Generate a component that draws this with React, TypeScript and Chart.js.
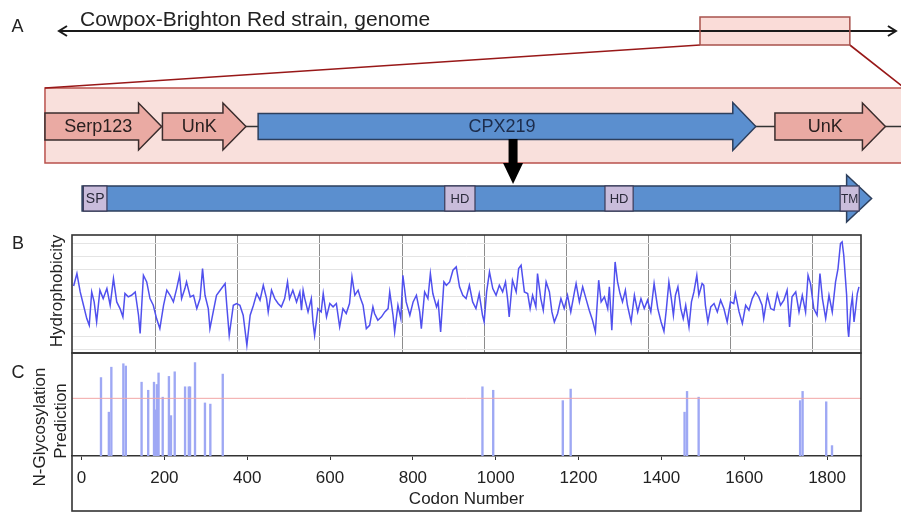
import React, { useEffect, useRef } from 'react';
import { Chart, registerables } from 'chart.js';

Chart.register(...registerables);

const W = 901;
const H = 513;
const FONT = "'Liberation Sans', Arial, Helvetica, sans-serif";

// ---------- Panel A: genome schematic ----------
const genomeTitle = 'Cowpox-Brighton Red strain, genome';
const genomeSpanKb = [0, 224.5];
const zoomWindowKb = [171.8, 211.9];
const regionSpanKb = [0, 9.88];
const geneNames = ['Serp123', 'UnK', 'CPX219', 'UnK'];
const geneStartKb = [0, 1.35, 2.45, 8.39];
const geneEndKb = [1.34, 2.31, 8.17, 9.66];
const geneFocus = [false, false, true, false];
const expandArrowKb = 5.38;
const proteinStart = 1;
const proteinLength = 1908;
const domainNames = ['SP', 'HD', 'HD', 'TM'];
const domainStart = [4, 877, 1264, 1832];
const domainEnd = [61, 950, 1332, 1878];

// ---------- Panel B: hydrophobicity profile [codon, value] ----------
const hydroProfile: [number, number][] = [
  [0, 0.8], [8, 1.73], [16, 0.35], [24, -0.65], [32, -1.65], [38, -2.15], [44, 0.35], [50, -0.4], [56, -1.9], [64, 0.48],
  [72, -0.15], [81, 0.6], [89, -0.65], [97, 1.35], [105, -0.4], [113, -0.9], [120, -1.52], [125, 0.23], [133, -0.02], [141, 0.1],
  [150, 0.35], [158, -1.4], [162, -2.77], [170, 1.6], [178, 1.1], [186, -0.15], [194, -0.65], [202, -1.65], [210, -2.4], [219, -0.65],
  [227, 0.48], [235, 0.1], [243, -0.4], [251, 0.6], [258, 1.6], [263, -0.15], [271, 0.6], [275, 1.1], [284, -0.02], [292, 0.1],
  [300, -0.9], [308, -0.15], [314, 2.1], [320, 0.1], [328, -0.9], [332, -2.4], [340, -1.15], [348, 0.1], [357, 0.48], [369, 0.98],
  [373, -0.65], [379, -2.9], [389, -0.65], [397, -0.52], [405, -0.65], [413, -1.4], [422, -3.65], [430, -1.4], [438, -0.65], [446, 0.23],
  [454, -0.27], [462, 0.85], [470, -0.15],
  [474, -1.15], [482, 0.48], [490, -0.15], [498, -0.52], [506, -0.77], [514, -0.15], [521, 1.1], [526, -0.15], [534, 0.48], [543, -0.4],
  [551, 0.35], [555, -1.02], [559, 0.48], [563, -0.15], [571, -1.15], [579, -0.15], [583, -1.9], [587, -2.9], [595, -0.9], [603, -1.15],
  [608, 0.23], [616, -1.52], [624, -0.52], [632, -0.77], [640, -0.52], [648, -2.27], [656, -0.9], [664, -1.27], [672, -0.52], [678, 1.48],
  [685, 0.1], [693, 0.48], [699, -0.15], [705, -0.65], [713, -2.4], [721, -2.15], [729, -0.77], [733, -1.27], [741, -1.77], [750, -1.52],
  [758, -1.15], [766, -0.9], [770, 0.35], [778, -1.4], [782, -2.65], [790, -0.65], [797, -1.65], [802, 1.6], [810, -0.4], [819, -1.4],
  [827, -0.4], [835, 0.1], [843, -1.15], [847, -2.4], [855, 0.35], [863, -0.15], [869, 1.73], [875, 0.23], [884, -0.77], [888, -0.4],
  [894, -2.65], [902, 1.1], [908, 0.85], [916, 1.1], [924, 1.98], [932, 2.23], [940, 0.73], [948, 0.1],
  [956, -0.15], [964, 0.85], [972, -0.4], [980, -0.9], [988, 0.23], [996, -1.4], [1000, -1.9], [1006, 0.35], [1013, 1.85], [1021, 0.6],
  [1029, 0.1], [1037, 0.85], [1045, 0.35], [1052, 1.1], [1057, -0.15], [1061, -1.52], [1069, 1.23], [1078, 0.35], [1084, 2.1], [1090, 2.35],
  [1098, 0.35], [1106, 0.23], [1112, -0.9], [1118, 0.1], [1126, -0.77], [1130, 1.73], [1138, -0.15], [1144, -1.02], [1151, 1.1], [1159, 0.35],
  [1165, -1.15], [1171, -1.9], [1179, -1.27], [1187, -0.15], [1195, -0.9], [1203, 0.1], [1211, -1.15], [1220, 0.35], [1224, 0.98], [1232, -0.4],
  [1240, 0.73], [1248, -0.15], [1256, -1.02], [1264, -1.77], [1271, -2.65], [1279, 1.23], [1285, -0.4], [1293, -0.02], [1301, -0.9], [1305, 0.73],
  [1311, -2.52], [1319, 2.6], [1325, 1.1], [1331, 0.23], [1337, -0.4], [1344, 0.48], [1349, -0.65], [1358, -1.9], [1366, 0.1], [1374, -1.15],
  [1382, -0.15], [1390, -0.9], [1398, -0.27], [1406, -1.15], [1414, 0.98], [1423, -0.9], [1431, -1.9],
  [1438, -2.6], [1444, -0.9], [1450, 1.1], [1456, -0.15], [1461, -1.4], [1466, 0.1], [1472, 0.73], [1479, -0.9], [1485, -1.65], [1491, -0.65],
  [1499, -2.27], [1505, -0.4], [1511, 0.35], [1518, 1.6], [1523, 0.1], [1531, 0.98], [1535, 0.85], [1539, -0.65], [1545, -1.9], [1552, -0.77],
  [1560, -0.52], [1568, -1.15], [1576, -0.27], [1584, -0.9], [1592, -1.9], [1600, -0.4], [1608, -0.52], [1612, 0.23], [1621, -1.15], [1629, -2.02],
  [1637, -0.65], [1645, -1.02], [1653, -0.15], [1661, 0.35], [1669, -0.02], [1677, -0.65], [1681, -1.65], [1690, 0.1], [1698, -0.9], [1706, -1.02],
  [1714, 0.23], [1722, -0.65], [1730, -0.27], [1738, 0.48], [1744, -2.27], [1750, -0.02], [1759, 0.35], [1767, -1.15], [1775, 0.1], [1783, -1.15],
  [1789, 1.6], [1795, 0.98], [1803, -0.9], [1811, -1.4], [1818, 1.73], [1824, -0.15], [1832, -1.65], [1840, 0.1], [1848, -1.15], [1856, 1.1],
  [1862, 2.1], [1868, 3.98], [1872, 4.1], [1876, 3.1], [1883, 0.1], [1886, -2.4], [1888, -3.02], [1893, -0.9], [1897, -0.02], [1901, -1.9],
  [1905, -0.9], [1909, 0.23], [1913, 0.73],
];
const hydroRange = [-4.23, 4.62];
const hydroCodonRange = [-4, 1918];

// ---------- Panel C: N-glycosylation prediction ----------
const glycoCodon = [47, 66, 72, 101, 107, 145, 161, 175, 179, 182, 186, 196, 211, 216, 225, 250, 259, 262, 274, 298, 311, 341,
  968, 994, 1162, 1181, 1456, 1462, 1490, 1735, 1741, 1798, 1812];
const glycoScore = [0.68, 0.38, 0.77, 0.8, 0.78, 0.64, 0.57, 0.64, 0.4, 0.62, 0.72, 0.51, 0.69, 0.35, 0.73, 0.6, 0.6, 0.6, 0.81, 0.46, 0.45, 0.71,
  0.6, 0.57, 0.48, 0.58, 0.38, 0.56, 0.51, 0.48, 0.56, 0.47, 0.09];
const glycoThreshold = 0.5;
const codonAxisRange = [-23, 1882];
const glycoMax = 0.893;

// ---------- drawing helpers ----------
function geneArrow(ctx: CanvasRenderingContext2D, x0: number, x1: number, yc: number, bodyH: number, headH: number, headL: number, fill: string, stroke: string) {
  const hx = x1 - headL;
  ctx.beginPath();
  ctx.moveTo(x0, yc - bodyH / 2);
  ctx.lineTo(hx, yc - bodyH / 2);
  ctx.lineTo(hx, yc - headH / 2);
  ctx.lineTo(x1, yc);
  ctx.lineTo(hx, yc + headH / 2);
  ctx.lineTo(hx, yc + bodyH / 2);
  ctx.lineTo(x0, yc + bodyH / 2);
  ctx.closePath();
  ctx.fillStyle = fill;
  ctx.fill();
  ctx.strokeStyle = stroke;
  ctx.lineWidth = 1.5;
  ctx.stroke();
}

const diagramPlugin = {
  id: 'diagram',
  afterDraw(chart: any) {
    const ctx: CanvasRenderingContext2D = chart.ctx;
    const g = chart.scales.xg;
    const r = chart.scales.xr;
    const c = chart.scales.xc;
    ctx.save();
    ctx.fillStyle = '#222';
    ctx.font = `18px ${FONT}`;
    ctx.textAlign = 'center';
    ctx.textBaseline = 'alphabetic';
    ctx.fillText('A', 17.5, 32);

    const wx0 = g.getPixelForValue(zoomWindowKb[0]);
    const wx1 = g.getPixelForValue(zoomWindowKb[1]);
    const rx0 = r.getPixelForValue(regionSpanKb[0]);
    const rx1 = r.getPixelForValue(regionSpanKb[1]);

    // region box
    ctx.fillStyle = '#f9e0dc';
    ctx.fillRect(rx0, 88, rx1 - rx0, 75);
    ctx.strokeStyle = '#b9514c';
    ctx.lineWidth = 1.5;
    ctx.strokeRect(rx0, 88, rx1 - rx0, 75);

    // connectors
    ctx.strokeStyle = '#981818';
    ctx.lineWidth = 1.6;
    ctx.beginPath();
    ctx.moveTo(wx0, 45);
    ctx.lineTo(rx0, 88);
    ctx.moveTo(wx1, 45);
    ctx.lineTo(rx1, 88);
    ctx.stroke();

    // genome window + genome arrow
    ctx.fillStyle = '#fadcd8';
    ctx.fillRect(wx0, 17, wx1 - wx0, 28);
    const gx0 = g.getPixelForValue(genomeSpanKb[0]);
    const gx1 = g.getPixelForValue(genomeSpanKb[1]);
    ctx.strokeStyle = '#1a1a1a';
    ctx.lineWidth = 2;
    ctx.beginPath();
    ctx.moveTo(gx0 + 1, 31);
    ctx.lineTo(gx1 - 1, 31);
    ctx.stroke();
    ctx.beginPath();
    ctx.moveTo(gx0 + 9, 26);
    ctx.lineTo(gx0 + 1, 31);
    ctx.lineTo(gx0 + 9, 36);
    ctx.moveTo(gx1 - 9, 26);
    ctx.lineTo(gx1 - 1, 31);
    ctx.lineTo(gx1 - 9, 36);
    ctx.stroke();
    ctx.strokeStyle = '#a8524c';
    ctx.lineWidth = 1.5;
    ctx.strokeRect(wx0, 17, wx1 - wx0, 28);
    ctx.fillStyle = '#222';
    ctx.font = `21px ${FONT}`;
    ctx.textAlign = 'left';
    ctx.fillText(genomeTitle, gx0 + 22, 26);

    // genes
    const yc = 126.5;
    ctx.strokeStyle = '#333';
    ctx.lineWidth = 1.5;
    ctx.beginPath();
    ctx.moveTo(r.getPixelForValue(geneStartKb[0]), yc);
    ctx.lineTo(W, yc);
    ctx.stroke();
    for (let i = 0; i < geneNames.length; i++) {
      const x0 = r.getPixelForValue(geneStartKb[i]);
      const x1 = r.getPixelForValue(geneEndKb[i]);
      if (geneFocus[i]) geneArrow(ctx, x0, x1, yc, 26, 48, 23, '#5b8fcf', '#2d3f5c');
      else geneArrow(ctx, x0, x1, yc, 27, 47, 23, '#eaaaa3', '#3a2c2c');
    }
    ctx.font = `18px ${FONT}`;
    ctx.textAlign = 'center';
    ctx.textBaseline = 'middle';
    for (let i = 0; i < geneNames.length; i++) {
      const x0 = r.getPixelForValue(geneStartKb[i]);
      const x1 = r.getPixelForValue(geneEndKb[i]);
      ctx.fillStyle = geneFocus[i] ? '#1c2c4c' : '#2a2020';
      ctx.fillText(geneNames[i], (x0 + x1 - 10) / 2, yc + 1);
    }

    // expand arrow
    const ax = r.getPixelForValue(expandArrowKb);
    ctx.fillStyle = '#000';
    ctx.fillRect(ax - 4.5, 139, 9, 26);
    ctx.beginPath();
    ctx.moveTo(ax - 10, 163);
    ctx.lineTo(ax + 10, 163);
    ctx.lineTo(ax, 184);
    ctx.closePath();
    ctx.fill();

    // protein domain bar
    const pyc = 198.5;
    const px0 = c.getPixelForValue(proteinStart);
    const px1 = c.getPixelForValue(proteinLength);
    geneArrow(ctx, px0, px1, pyc, 25, 47, 25, '#5b8fcf', '#2d3f5c');
    for (let i = 0; i < domainNames.length; i++) {
      const d0 = c.getPixelForValue(domainStart[i]);
      const d1 = c.getPixelForValue(domainEnd[i]);
      ctx.fillStyle = '#c9bcdb';
      ctx.fillRect(d0, pyc - 12.5, d1 - d0, 25);
      ctx.strokeStyle = '#3a3a58';
      ctx.lineWidth = 1.2;
      ctx.strokeRect(d0, pyc - 12.5, d1 - d0, 25);
      ctx.fillStyle = '#2a2a3a';
      ctx.font = `${domainNames[i] === 'TM' ? 12 : domainNames[i] === 'SP' ? 14 : 13}px ${FONT}`;
      ctx.fillText(domainNames[i], (d0 + d1) / 2, pyc + 1);
    }
    ctx.restore();
  },
};

const panelBPlugin = {
  id: 'panelB',
  afterDraw(chart: any) {
    const ctx: CanvasRenderingContext2D = chart.ctx;
    const a = chart.chartArea;
    ctx.save();
    ctx.strokeStyle = '#333';
    ctx.lineWidth = 1.6;
    ctx.strokeRect(a.left, a.top, a.right - a.left, a.bottom - a.top);
    ctx.fillStyle = '#222';
    ctx.font = `18px ${FONT}`;
    ctx.textAlign = 'center';
    ctx.textBaseline = 'alphabetic';
    ctx.fillText('B', 18, 249);
    ctx.translate(57, 291);
    ctx.rotate(-Math.PI / 2);
    ctx.font = `17px ${FONT}`;
    ctx.textBaseline = 'middle';
    ctx.fillText('Hydrophobicity', 0, 0);
    ctx.restore();
  },
};

const panelCPlugin = {
  id: 'panelC',
  afterDraw(chart: any) {
    const ctx: CanvasRenderingContext2D = chart.ctx;
    const a = chart.chartArea;
    const xs = chart.scales.x;
    ctx.save();
    ctx.strokeStyle = '#333';
    ctx.lineWidth = 1.6;
    ctx.strokeRect(a.left, a.top, a.right - a.left, xs.bottom - a.top);
    ctx.fillStyle = '#222';
    ctx.font = `18px ${FONT}`;
    ctx.textAlign = 'center';
    ctx.textBaseline = 'alphabetic';
    ctx.fillText('C', 18, 378);
    ctx.font = `17px ${FONT}`;
    ctx.textBaseline = 'middle';
    ctx.save();
    ctx.translate(40, 427);
    ctx.rotate(-Math.PI / 2);
    ctx.fillText('N-Glycosylation', 0, 0);
    ctx.restore();
    ctx.translate(61, 421);
    ctx.rotate(-Math.PI / 2);
    ctx.fillText('Prediction', 0, 0);
    ctx.restore();
  },
};

const common = {
  responsive: false,
  animation: false as const,
  events: [] as any[],
};

export default function App() {
  const aRef = useRef<HTMLCanvasElement>(null);
  const bRef = useRef<HTMLCanvasElement>(null);
  const cRef = useRef<HTMLCanvasElement>(null);

  useEffect(() => {
    const chartA = new Chart(aRef.current!, {
      type: 'scatter',
      data: { datasets: [] },
      options: {
        ...common,
        layout: { padding: 0 },
        plugins: { legend: { display: false }, tooltip: { enabled: false } },
        scales: {
          xg: { type: 'linear', axis: 'x', display: false, min: -15.52, max: 225.59 },
          xr: { type: 'linear', axis: 'x', display: false, min: -0.517, max: 9.839 },
          xc: { type: 'linear', axis: 'x', display: false, min: -197.3, max: 1979 },
          y: { type: 'linear', display: false, min: 0, max: 1 },
        },
      } as any,
      plugins: [diagramPlugin],
    });

    const chartB = new Chart(bRef.current!, {
      type: 'line',
      data: {
        datasets: [{
          data: hydroProfile.map(([x, y]) => ({ x, y })),
          borderColor: '#5050ee',
          borderWidth: 1.5,
          pointRadius: 0,
          tension: 0,
        }],
      },
      options: {
        ...common,
        layout: { padding: { left: 72, right: 40, top: 235, bottom: 160 } },
        plugins: { legend: { display: false }, tooltip: { enabled: false } },
        scales: {
          x: {
            type: 'linear', min: hydroCodonRange[0], max: hydroCodonRange[1],
            border: { display: false },
            grid: { color: '#8c8c8c', lineWidth: 1, drawTicks: false },
            ticks: { display: false, stepSize: 200, includeBounds: false },
            afterBuildTicks: (s: any) => { s.ticks = s.ticks.filter((t: any) => t.value > 0 && t.value < hydroCodonRange[1]); },
            afterFit: (s: any) => { s.height = 0; },
          },
          y: {
            type: 'linear', min: hydroRange[0], max: hydroRange[1],
            border: { display: false },
            grid: { color: '#e4e4e4', lineWidth: 1, drawTicks: false },
            ticks: { display: false, stepSize: 1, includeBounds: false },
            afterFit: (s: any) => { s.width = 0; },
          },
        },
      } as any,
      plugins: [panelBPlugin],
    });

    const chartC = new Chart(cRef.current!, {
      type: 'bar',
      data: {
        datasets: [
          {
            type: 'line',
            data: [{ x: codonAxisRange[0], y: glycoThreshold }, { x: codonAxisRange[1], y: glycoThreshold }],
            borderColor: '#f2a6a6',
            borderWidth: 1,
            pointRadius: 0,
          },
          {
            type: 'bar',
            data: glycoCodon.map((x, i) => ({ x, y: glycoScore[i] })),
            backgroundColor: '#9ea8f4',
            barThickness: 1.7,
          },
        ] as any,
      },
      options: {
        ...common,
        layout: { padding: { left: 72, right: 40, top: 353, bottom: 2 } },
        plugins: { legend: { display: false }, tooltip: { enabled: false } },
        scales: {
          x: {
            type: 'linear', min: codonAxisRange[0], max: codonAxisRange[1], offset: false,
            border: { display: true, color: '#333', width: 1.6 },
            grid: { display: true, offset: false, drawOnChartArea: false, drawTicks: true, tickLength: 4, color: '#333' },
            ticks: {
              stepSize: 200, includeBounds: false, maxRotation: 0, padding: 8,
              font: { family: FONT, size: 17 }, color: '#222',
              callback: (v: any) => String(v),
            },
            title: { display: true, text: 'Codon Number', font: { family: FONT, size: 17 }, color: '#222', padding: { top: 0, bottom: 1 } },
            afterFit: (s: any) => { s.height = 55; },
          },
          y: { type: 'linear', min: 0, max: glycoMax, display: false },
        },
      } as any,
      plugins: [panelCPlugin],
    });

    return () => {
      chartA.destroy();
      chartB.destroy();
      chartC.destroy();
    };
  }, []);

  const cs: React.CSSProperties = { position: 'absolute', left: 0, top: 0, width: W, height: H, display: 'block' };
  return (
    <div style={{ position: 'absolute', left: 0, top: 0, width: W, height: H, background: '#fff', overflow: 'hidden' }}>
      <canvas ref={aRef} width={W} height={H} style={cs} />
      <canvas ref={bRef} width={W} height={H} style={cs} />
      <canvas ref={cRef} width={W} height={H} style={cs} />
    </div>
  );
}
